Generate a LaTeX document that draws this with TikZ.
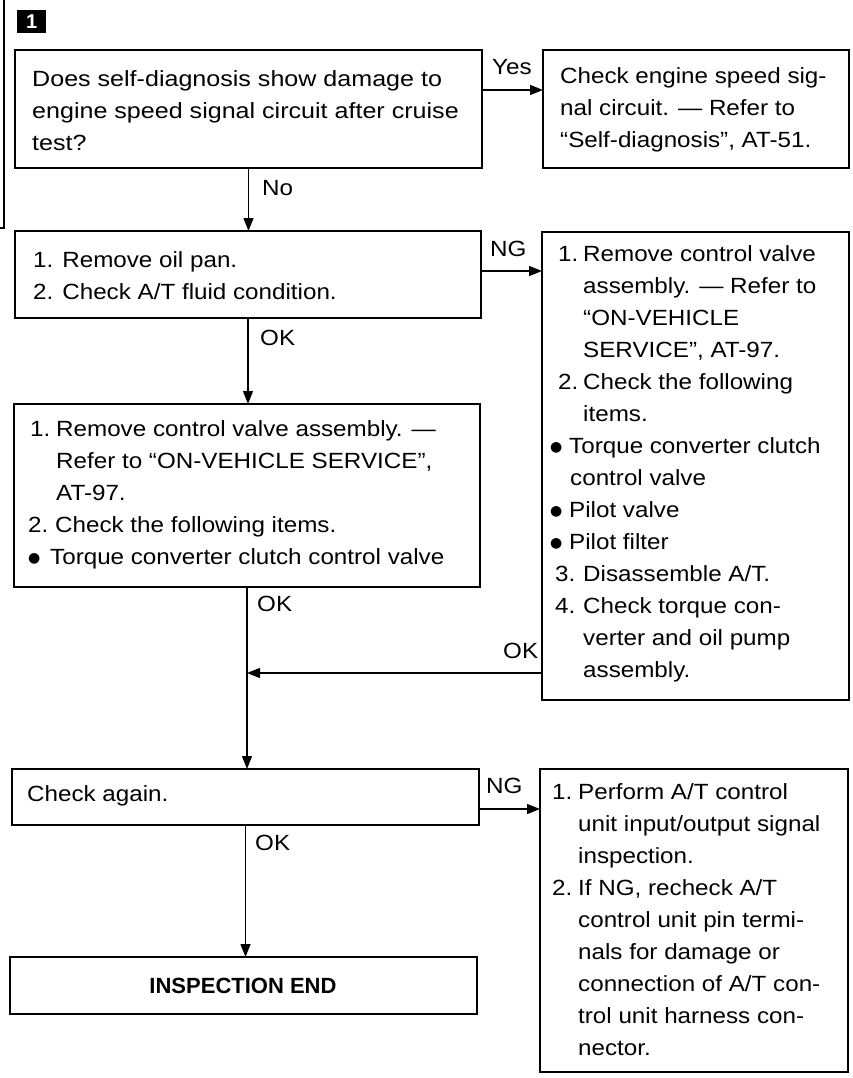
\documentclass[tikz,border=0pt]{standalone}
\usepackage{fontspec}
\setmainfont{Liberation Sans}[FakeStretch=1.1]
\newfontfamily\symf{DejaVu Sans}
\newfontfamily\plainf{Liberation Sans}
\newfontfamily\widef{Liberation Sans}[FakeStretch=1.14]
\usetikzlibrary{arrows.meta}
\newcommand\bul{\raisebox{2pt}{\symf\fontsize{14}{14}\selectfont ●}}
\begin{document}
\begin{tikzpicture}[x=1pt,y=-1pt,
  box/.style={draw, line width=1.7pt, inner sep=0pt, outer sep=0pt, anchor=north west},
  txt/.style={inner sep=0pt, anchor=north west, align=left, font=\fontsize{22}{32}\selectfont},
  lbl/.style={inner sep=0pt, anchor=base west, font=\fontsize{22}{32}\selectfont},
  arr/.style={line width=1.4pt, -{Triangle[length=13pt,width=10pt]}},
  ln/.style={line width=1.4pt}]
\useasboundingbox (0,0) rectangle (852,1078);
% margin rule and marker
\draw[ln] (4,0) -- (4,228) -- (0,228);
\node[fill=black, minimum width=29pt, minimum height=23pt, inner sep=0pt, anchor=north west,
      text=white, font=\plainf\bfseries\fontsize{20}{20}\selectfont] (mk) at (17,10) {1};
% boxes
\node[box, minimum width=467pt, minimum height=118pt] (b1) at (15,50) {};
\node[box, minimum width=306pt, minimum height=118pt] (byes) at (543,50) {};
\node[box, minimum width=466pt, minimum height=87pt] (b2) at (15,231) {};
\node[box, minimum width=307pt, minimum height=468pt] (bng) at (542,232) {};
\node[box, minimum width=466pt, minimum height=183pt] (b3) at (14,404) {};
\node[box, minimum width=467pt, minimum height=56pt] (bchk) at (12,769) {};
\node[box, minimum width=467pt, minimum height=57pt] (bend) at (10,957) {};
\node[box, minimum width=308pt, minimum height=303pt] (bfin) at (540,769) {};
% texts
\node[txt, font=\widef\fontsize{22}{32}\selectfont] (t1) at (32,63.5) {\strut Does self-diagnosis show damage to\\engine speed signal circuit after cruise\\test?};
\node[txt] (tyes) at (560,60.5) {\strut Check engine speed sig-\\nal circuit. --- Refer to\\``Self-diagnosis'', AT-51.};
\node[txt] (t2) at (33,244.5) {\strut 1. Remove oil pan.\\2. Check A/T fluid condition.};
\node[txt] (tng) at (555,238.5) {\strut\makebox[28pt][l]{\hspace*{3pt}1.}Remove control valve\\
\hspace*{28pt}assembly. --- Refer to\\
\hspace*{28pt}``ON-VEHICLE\\
\hspace*{28pt}SERVICE'', AT-97.\\
\makebox[28pt][l]{\hspace*{3pt}2.}Check the following\\
\hspace*{28pt}items.\\
\makebox[14pt][l]{\hspace*{-5pt}\bul}Torque converter clutch\\
\hspace*{15pt}control valve\\
\makebox[14pt][l]{\hspace*{-5pt}\bul}Pilot valve\\
\makebox[14pt][l]{\hspace*{-5pt}\bul}Pilot filter\\
\makebox[28pt][l]{3.}Disassemble A/T.\\
\makebox[28pt][l]{4.}Check torque con-\\
\hspace*{28pt}verter and oil pump\\
\hspace*{28pt}assembly.};
\node[txt] (t3) at (28,413.5) {\strut\makebox[28pt][l]{\hspace*{2pt}1.}Remove control valve assembly. ---\\
\hspace*{28pt}Refer to ``ON-VEHICLE SERVICE'',\\
\hspace*{28pt}AT-97.\\
\makebox[27pt][l]{2.}Check the following items.\\
\makebox[22pt][l]{\bul}Torque converter clutch control valve};
\node[txt] (tchk) at (27,778.5) {\strut Check again.};
\node[inner sep=0pt, font=\plainf\bfseries\fontsize{22}{32}\selectfont] (tend) at (243,985.5) {INSPECTION END};
\node[txt] (tfin) at (552,776.5) {\strut\makebox[26pt][l]{1.}Perform A/T control\\
\hspace*{26pt}unit input/output signal\\
\hspace*{26pt}inspection.\\
\makebox[26pt][l]{2.}If NG, recheck A/T\\
\hspace*{26pt}control unit pin termi-\\
\hspace*{26pt}nals for damage or\\
\hspace*{26pt}connection of A/T con-\\
\hspace*{26pt}trol unit harness con-\\
\hspace*{26pt}nector.};
% connectors
\coordinate (yy) at (0,90);
\coordinate (ng1) at (0,271);
\coordinate (jy) at (0,673);
\coordinate (ng2) at (0,809);
\draw[arr] (b1.east |- yy) -- (byes.west |- yy);
\draw[arr] (b1.south) -- (b1.south |- b2.north);
\draw[arr] (b2.east |- ng1) -- (bng.west |- ng1);
\draw[arr] (b2.south) -- (b2.south |- b3.north);
\draw[arr] (b3.south) -- (b3.south |- bchk.north);
\draw[arr] (bng.west |- jy) -- (b3.south |- jy);
\draw[arr] (bchk.east |- ng2) -- (bfin.west |- ng2);
\draw[arr] (bchk.south) -- (bchk.south |- bend.north);
% labels
\node[lbl] (lyes) at (492,75) {Yes};
\node[lbl] (lno) at (262,196) {No};
\node[lbl] (lng1) at (490,256) {NG};
\node[lbl] (lok1) at (260,345) {OK};
\node[lbl] (lok2) at (257,611) {OK};
\node[lbl] (lok3) at (503,658) {OK};
\node[lbl] (lng2) at (486,793) {NG};
\node[lbl] (lok4) at (255,850) {OK};
\end{tikzpicture}
\end{document}
